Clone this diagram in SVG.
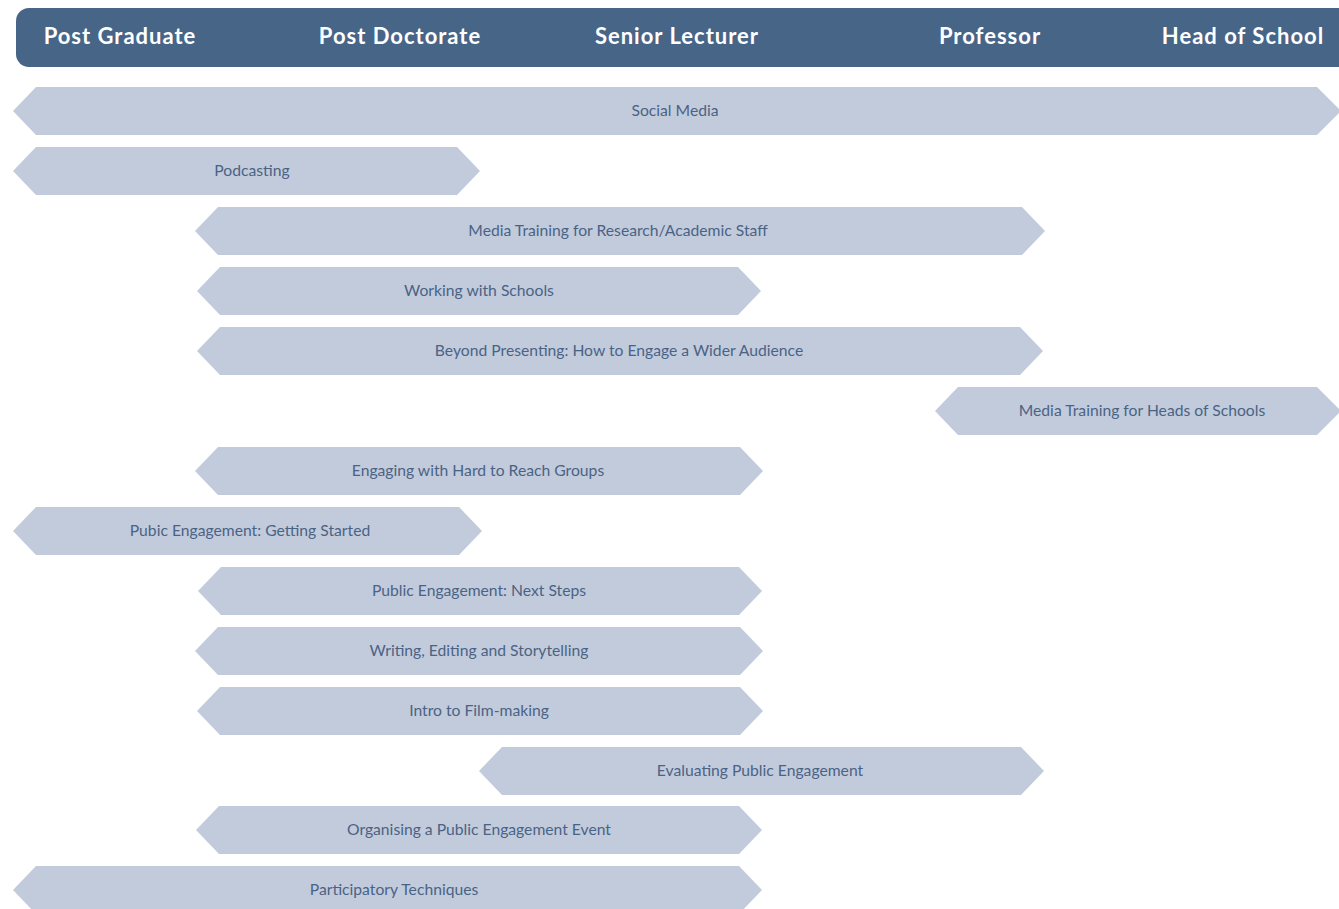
<svg xmlns="http://www.w3.org/2000/svg" width="1339" height="909" viewBox="0 0 1339 909">
<style>
.hdr{fill:#476587}
.ht{font-family:"Lato","Liberation Sans",sans-serif;font-weight:bold;font-size:22px;letter-spacing:1px;fill:#ffffff;text-anchor:middle}
.bar{fill:#c2cbdc}
.bt{font-family:"Lato","Open Sans",sans-serif;font-size:15.7px;fill:#4a6385;text-anchor:middle}
</style>
<g id="header">
<rect class="hdr" x="16" y="8" width="1340" height="59" rx="13"/>
<text class="ht" x="120" y="44">Post Graduate</text>
<text class="ht" x="400" y="44">Post Doctorate</text>
<text class="ht" x="677" y="44">Senior Lecturer</text>
<text class="ht" x="990" y="44">Professor</text>
<text class="ht" x="1243" y="44">Head of School</text>
</g>
<g id="social-media"><polygon class="bar" points="13,111 36,87 1317,87 1341,111 1317,135 36,135"/><text class="bt" x="675" y="115.5">Social Media</text></g>
<g id="podcasting"><polygon class="bar" points="13,171 36,147 457,147 480,171 457,195 36,195"/><text class="bt" x="252" y="175.5">Podcasting</text></g>
<g id="media-training"><polygon class="bar" points="195,231 218,207 1022,207 1045,231 1022,255 218,255"/><text class="bt" x="618" y="235.5">Media Training for Research/Academic Staff</text></g>
<g id="working-schools"><polygon class="bar" points="197,291 220,267 738,267 761,291 738,315 220,315"/><text class="bt" x="479" y="295.5">Working with Schools</text></g>
<g id="beyond-presenting"><polygon class="bar" points="197,351 220,327 1020,327 1043,351 1020,375 220,375"/><text class="bt" x="619" y="355.5">Beyond Presenting: How to Engage a Wider Audience</text></g>
<g id="media-heads"><polygon class="bar" points="935,411 958,387 1317,387 1341,411 1317,435 958,435"/><text class="bt" x="1142" y="415.5">Media Training for Heads of Schools</text></g>
<g id="hard-to-reach"><polygon class="bar" points="195,471 218,447 740,447 763,471 740,495 218,495"/><text class="bt" x="478" y="475.5">Engaging with Hard to Reach Groups</text></g>
<g id="getting-started"><polygon class="bar" points="13,531 36,507 459,507 482,531 459,555 36,555"/><text class="bt" x="250" y="535.5">Pubic Engagement: Getting Started</text></g>
<g id="next-steps"><polygon class="bar" points="198,591 221,567 739,567 762,591 739,615 221,615"/><text class="bt" x="479" y="595.5">Public Engagement: Next Steps</text></g>
<g id="writing"><polygon class="bar" points="195,651 218,627 740,627 763,651 740,675 218,675"/><text class="bt" x="479" y="655.5">Writing, Editing and Storytelling</text></g>
<g id="film-making"><polygon class="bar" points="197,711 220,687 740,687 763,711 740,735 220,735"/><text class="bt" x="479" y="715.5">Intro to Film-making</text></g>
<g id="evaluating"><polygon class="bar" points="479,771 502,747 1021,747 1044,771 1021,795 502,795"/><text class="bt" x="760" y="775.5">Evaluating Public Engagement</text></g>
<g id="organising"><polygon class="bar" points="196,830 219,806 739,806 762,830 739,854 219,854"/><text class="bt" x="479" y="834.5">Organising a Public Engagement Event</text></g>
<g id="participatory"><polygon class="bar" points="13,890 36,866 739,866 762,890 739,914 36,914"/><text class="bt" x="394" y="894.5">Participatory Techniques</text></g>
<g id="connectors"/>
</svg>
